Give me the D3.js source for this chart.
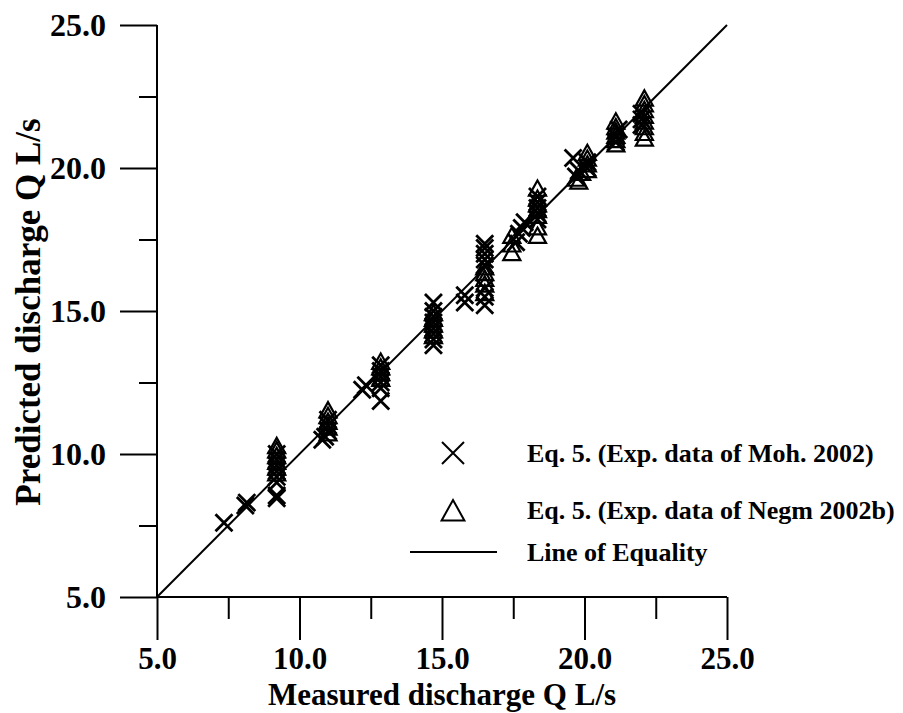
<!DOCTYPE html>
<html>
<head>
<meta charset="utf-8">
<script src="https://cdn.jsdelivr.net/npm/d3@7"></script>
<style>
  body { margin: 0; background: #fff; }
  text { font-family: "Liberation Serif", "Times New Roman", serif; font-weight: bold; fill: #000; }
</style>
</head>
<body>
<div id="content"></div>
<script>
// Moh. 2002 data (X markers): measured / predicted
var mohMeasured = [7.35, 8.1, 8.15, 9.2, 9.2, 9.2, 9.2, 9.2, 9.2, 9.2, 9.2,
                   10.8, 10.9, 11.0, 11.0, 11.0, 12.2, 12.33,
                   12.85, 12.85, 12.85, 12.85, 12.85, 12.85,
                   14.7, 14.7, 14.7, 14.7, 14.7, 14.7, 14.7, 14.7,
                   15.8, 15.8,
                   16.5, 16.5, 16.5, 16.5, 16.5, 16.5, 16.5, 16.5,
                   17.6, 17.7, 17.8, 17.9,
                   18.35, 18.35, 18.35, 18.35, 18.35,
                   19.6, 19.7, 19.8, 20.1, 20.1,
                   21.1, 21.1, 21.2,
                   22.0, 22.0, 22.0];
var mohPredicted = [7.6, 8.2, 8.3, 8.45, 8.55, 9.0, 9.2, 9.4, 9.6, 9.8, 10.0,
                    10.5, 10.6, 10.8, 11.0, 11.2, 12.25, 12.4,
                    11.85, 12.3, 12.5, 12.7, 12.9, 13.1,
                    13.8, 14.0, 14.2, 14.4, 14.6, 14.8, 15.0, 15.3,
                    15.3, 15.55,
                    15.2, 15.5, 15.8, 16.6, 16.8, 17.0, 17.2, 17.35,
                    17.4, 17.7, 17.9, 18.1,
                    18.2, 18.4, 18.6, 18.8, 19.0,
                    20.35, 19.7, 19.9, 20.0, 20.2,
                    20.9, 21.1, 21.35,
                    21.5, 21.7, 21.9];

// Negm 2002b data (triangles)
var negmMeasured = [9.2, 9.2, 9.2, 9.2, 9.2, 9.2,
                    11.0, 11.0, 11.0, 11.0, 11.0,
                    12.85, 12.85, 12.85, 12.85,
                    14.7, 14.7, 14.7, 14.7, 14.7,
                    16.5, 16.5, 16.5, 16.5, 16.5,
                    17.45, 17.45, 17.45,
                    18.35, 18.35, 18.35, 18.35, 18.35, 18.35, 18.35,
                    19.7, 19.8, 19.9, 20.1, 20.1, 20.1, 20.1,
                    21.1, 21.1, 21.1, 21.1, 21.1, 21.1,
                    22.1, 22.1, 22.1, 22.1, 22.1, 22.1, 22.1, 22.1];
var negmPredicted = [9.3, 9.5, 9.7, 9.9, 10.1, 10.25,
                     10.7, 10.9, 11.1, 11.3, 11.5,
                     12.6, 12.8, 13.0, 13.2,
                     14.1, 14.3, 14.5, 14.7, 14.9,
                     15.6, 15.9, 16.1, 16.3, 16.5,
                     17.0, 17.3, 17.6,
                     17.6, 17.9, 18.3, 18.5, 18.7, 18.9, 19.25,
                     19.6, 19.5, 19.8, 19.9, 20.1, 20.3, 20.5,
                     20.8, 20.95, 21.1, 21.25, 21.4, 21.6,
                     21.0, 21.2, 21.4, 21.6, 21.8, 22.0, 22.2, 22.4];

var majorTicks = [5, 10, 15, 20, 25];
var minorTicks = [7.5, 12.5, 17.5, 22.5];
var equality = [5, 25];

var legendLabels = ['Eq. 5. (Exp. data of Moh. 2002)',
                    'Eq. 5. (Exp. data of Negm 2002b)',
                    'Line of Equality'];

var width = 903, height = 713;

var svg = d3.select('#content').append('svg')
    .attr('width', width)
    .attr('height', height);

var xScale = d3.scaleLinear().domain([5, 25]).range([157, 727]);
var yScale = d3.scaleLinear().domain([5, 25]).range([597, 25]);

var fmt = d3.format('.1f');

// x axis
var xMajor = svg.append('g').attr('transform', 'translate(0,597)')
    .call(d3.axisBottom(xScale).tickValues(majorTicks).tickFormat(fmt).tickSize(43).tickPadding(7));
svg.append('g').attr('transform', 'translate(0,597)')
    .call(d3.axisBottom(xScale).tickValues(minorTicks).tickFormat('').tickSize(22).tickSizeOuter(0))
    .select('.domain').remove();

// y axis
var yMajor = svg.append('g').attr('transform', 'translate(157,0)')
    .call(d3.axisLeft(yScale).tickValues(majorTicks).tickFormat(fmt).tickSize(37).tickPadding(14));
svg.append('g').attr('transform', 'translate(157,0)')
    .call(d3.axisLeft(yScale).tickValues(minorTicks).tickFormat('').tickSize(18).tickSizeOuter(0))
    .select('.domain').remove();

xMajor.select('.domain').attr('d', 'M157,0H727');
yMajor.select('.domain').attr('d', 'M0,597V25');

svg.selectAll('.tick line, .domain')
    .style('stroke', '#000')
    .style('stroke-width', 2);
svg.selectAll('.tick text')
    .style('font-family', '"Liberation Serif", serif')
    .style('font-weight', 'bold')
    .style('font-size', '32px')
    .style('fill', '#000');
xMajor.selectAll('.tick text').style('font-size', '31px');

// axis titles
svg.append('text')
    .attr('x', 442).attr('y', 705)
    .attr('text-anchor', 'middle')
    .style('font-size', '31px')
    .text('Measured discharge Q L/s');

svg.append('text')
    .attr('transform', 'translate(40,312) rotate(-90)')
    .attr('text-anchor', 'middle')
    .style('font-size', '35px')
    .text('Predicted discharge Q L/s');

// line of equality
svg.append('line')
    .attr('x1', xScale(equality[0])).attr('y1', yScale(equality[0]))
    .attr('x2', xScale(equality[1])).attr('y2', yScale(equality[1]))
    .style('stroke', '#000')
    .style('stroke-width', 2);

var crossPath = function(s){
    return 'M' + (-s) + ',' + (-s) + 'L' + s + ',' + s + 'M' + (-s) + ',' + s + 'L' + s + ',' + (-s);
};
var triPath = function(s){
    return 'M0,' + (-s) + 'L' + (s * 0.95) + ',' + (s * 0.7) + 'L' + (-s * 0.95) + ',' + (s * 0.7) + 'Z';
};

// Negm triangles
svg.append('g').selectAll('path').data(negmMeasured)
    .enter().append('path')
        .attr('transform', function(d, i){
            return 'translate(' + xScale(d) + ',' + yScale(negmPredicted[i]) + ')';
        })
        .attr('d', triPath(9))
        .style('fill', 'none')
        .style('stroke', '#000')
        .style('stroke-width', 2.2);

// Moh crosses
svg.append('g').selectAll('path').data(mohMeasured)
    .enter().append('path')
        .attr('transform', function(d, i){
            return 'translate(' + xScale(d) + ',' + yScale(mohPredicted[i]) + ')';
        })
        .attr('d', crossPath(8.5))
        .style('fill', 'none')
        .style('stroke', '#000')
        .style('stroke-width', 2.8);

// legend
var legend = svg.append('g');
legend.append('path')
    .attr('transform', 'translate(453,453)')
    .attr('d', crossPath(11))
    .style('fill', 'none').style('stroke', '#000').style('stroke-width', 2);
legend.append('path')
    .attr('transform', 'translate(453,512)')
    .attr('d', triPath(12))
    .style('fill', 'none').style('stroke', '#000').style('stroke-width', 2);
legend.append('line')
    .attr('x1', 410).attr('x2', 497).attr('y1', 552).attr('y2', 552)
    .style('stroke', '#000').style('stroke-width', 2);

legend.selectAll('text').data(legendLabels)
    .enter().append('text')
        .attr('x', 527)
        .attr('y', function(d, i){ return [462, 519, 561][i]; })
        .style('font-size', '26px')
        .text(function(d){ return d; });
</script>
</body>
</html>
